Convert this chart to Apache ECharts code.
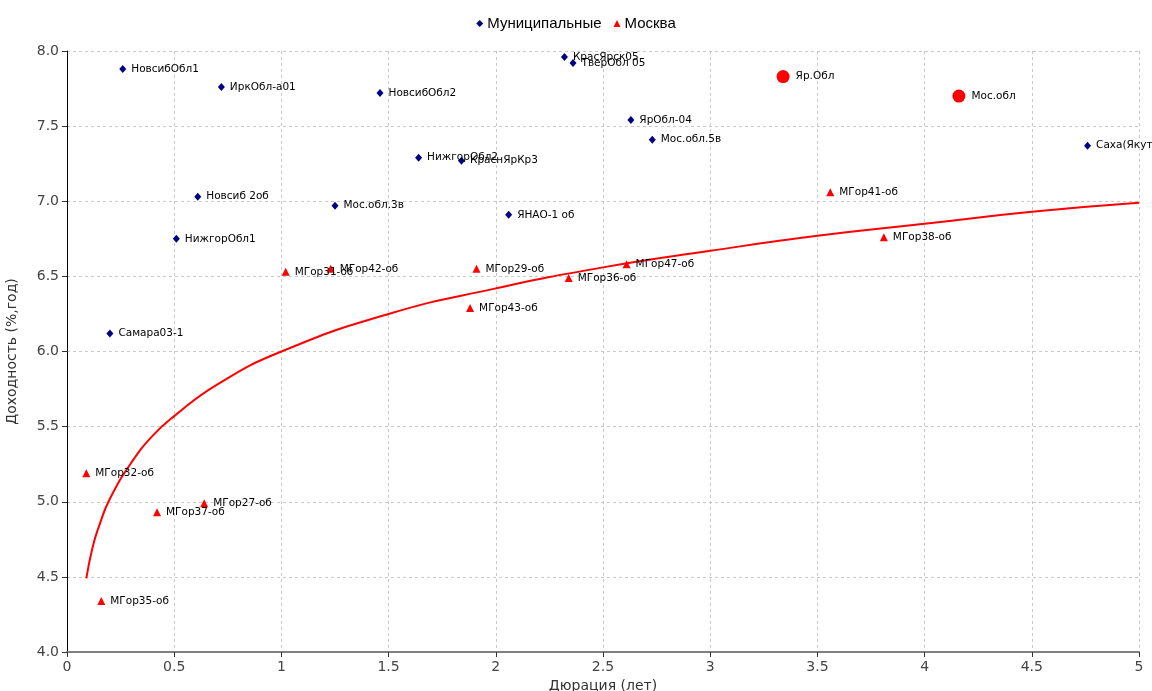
<!DOCTYPE html>
<html>
<head>
<meta charset="utf-8">
<script src="https://cdn.jsdelivr.net/npm/echarts@6/dist/echarts.min.js"></script>
<style>
  html, body { margin: 0; padding: 0; background: #fff; }
  #chart { width: 1152px; height: 691px; }
</style>
</head>
<body>
<div id="chart"></div>
<script>
// municipal bonds (navy diamonds)
const muniNames = ["НовсибОбл1", "ИркОбл-а01", "НовсибОбл2", "НижгорОбл2", "КраснЯрКр3", "КрасЯрск05",
  "ТверОбл 05", "ЯрОбл-04", "Мос.обл.5в", "Саха(Якут)", "Новсиб 2об", "Мос.обл.3в", "ЯНАО-1 об",
  "НижгорОбл1", "Самара03-1"];
const muniX = [0.26, 0.72, 1.46, 1.64, 1.84, 2.32, 2.36, 2.63, 2.73, 4.76, 0.61, 1.25, 2.06, 0.51, 0.20];
const muniY = [7.88, 7.76, 7.72, 7.29, 7.27, 7.96, 7.92, 7.54, 7.41, 7.37, 7.03, 6.97, 6.91, 6.75, 6.12];

// Moscow city bonds (red triangles)
const moscowNames = ["МГор31-об", "МГор42-об", "МГор29-об", "МГор36-об", "МГор47-об", "МГор43-об",
  "МГор41-об", "МГор38-об", "МГор32-об", "МГор27-об", "МГор37-об", "МГор35-об"];
const moscowX = [1.02, 1.23, 1.91, 2.34, 2.61, 1.88, 3.56, 3.81, 0.09, 0.64, 0.42, 0.16];
const moscowY = [6.53, 6.55, 6.55, 6.49, 6.58, 6.29, 7.06, 6.76, 5.19, 4.99, 4.93, 4.34];

// highlighted issues (big red dots)
const bigNames = ["Яр.Обл", "Мос.обл"];
const bigX = [3.34, 4.16];
const bigY = [7.83, 7.70];

// trend curve
const trendX = [0.09, 0.12, 0.15, 0.2, 0.3, 0.4, 0.5, 0.7, 1.0, 1.5, 2.0, 2.5, 3.0, 3.5, 4.0, 4.5, 5.0];
const trendY = [4.49, 4.70, 4.84, 5.02, 5.26, 5.44, 5.57, 5.78, 6.00, 6.25, 6.42, 6.56, 6.67, 6.77, 6.85, 6.93, 6.99];

const LABEL_FONT = "'DejaVu Sans', Verdana, sans-serif";
const AXIS_FONT = "'DejaVu Sans', Tahoma, sans-serif";

const zip = (xs, ys, names) => xs.map((x, i) => names ? { value: [x, ys[i]], name: names[i] } : [x, ys[i]]);

const pointLabel = {
  show: true,
  position: "right",
  distance: 5,
  formatter: (p) => p.name,
  color: "#000",
  fontFamily: LABEL_FONT,
  fontSize: 10.5,
};

const chart = echarts.init(document.getElementById("chart"));
chart.setOption({
  animation: false,
  backgroundColor: "#fff",
  grid: { left: 67, right: 13, top: 51, bottom: 39, containLabel: false, outerBoundsMode: "none" },
  legend: {
    top: 11,
    left: "center",
    data: ["Муниципальные", "Москва"],
    itemWidth: 7,
    itemHeight: 7,
    itemGap: 12,
    textStyle: { fontFamily: "'Liberation Sans', Arial, sans-serif", fontSize: 15, color: "#000", padding: [0, 0, 0, -1] },
  },
  xAxis: {
    type: "value",
    min: 0,
    max: 5,
    interval: 0.5,
    name: "Дюрация (лет)",
    nameLocation: "middle",
    nameGap: 24,
    nameTextStyle: { fontFamily: AXIS_FONT, fontSize: 14, color: "#333" },
    axisLine: { show: true, onZero: false, lineStyle: { color: "#808080", width: 2 } },
    axisTick: { show: true, length: 5, lineStyle: { color: "#333" } },
    axisLabel: { fontFamily: AXIS_FONT, fontSize: 14, color: "#444", margin: 8, formatter: (v) => String(v) },
    splitLine: { show: true, lineStyle: { color: "#c8c8c8", type: [3, 3] } },
  },
  yAxis: {
    type: "value",
    min: 4,
    max: 8,
    interval: 0.5,
    name: "Доходность (%,год)",
    nameLocation: "middle",
    nameGap: 48,
    nameTextStyle: { fontFamily: AXIS_FONT, fontSize: 14, color: "#333" },
    axisLine: { show: true, lineStyle: { color: "#000", width: 1 } },
    axisTick: { show: true, length: 5, lineStyle: { color: "#333" } },
    axisLabel: { fontFamily: AXIS_FONT, fontSize: 14, color: "#444", margin: 8, formatter: (v) => v.toFixed(1) },
    splitLine: { show: true, lineStyle: { color: "#c8c8c8", type: [3, 3] } },
  },
  series: [
    {
      name: "trend",
      type: "line",
      data: zip(trendX, trendY),
      smooth: true,
      showSymbol: false,
      symbol: "none",
      lineStyle: { color: "#ff0000", width: 2 },
      z: 1,
    },
    {
      name: "Муниципальные",
      type: "scatter",
      data: zip(muniX, muniY, muniNames),
      symbol: "diamond",
      symbolSize: [7, 8],
      itemStyle: { color: "#000080", opacity: 1 },
      label: pointLabel,
      z: 3,
    },
    {
      name: "Москва",
      type: "scatter",
      data: zip(moscowX, moscowY, moscowNames),
      symbol: "triangle",
      symbolSize: [8, 8],
      itemStyle: { color: "#ff0000", opacity: 1 },
      label: pointLabel,
      z: 3,
    },
    {
      name: "big",
      type: "scatter",
      data: zip(bigX, bigY, bigNames),
      symbol: "circle",
      symbolSize: 13,
      itemStyle: { color: "#ff0000", opacity: 1 },
      label: Object.assign({}, pointLabel, { distance: 6 }),
      z: 3,
    },
  ],
});
</script>
</body>
</html>
